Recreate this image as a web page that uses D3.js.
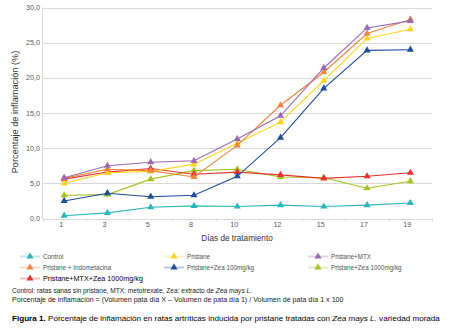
<!DOCTYPE html>
<html><head><meta charset="utf-8">
<script src="https://cdn.jsdelivr.net/npm/d3@7"></script>
<style>
body{margin:0;background:#fff;}
svg{display:block;font-family:"Liberation Sans",Arial,sans-serif;}
</style></head>
<body><svg id="c" width="451" height="329"></svg>
<script>
const days = ["1","3","5","8","10","12","15","17","19"];
const yTicks = [0,5,10,15,20,25,30];
const seriesNames = ["Control","Pristane","Pristane+MTX","Pristane + Indometacina","Pristane+Zea 100mg/kg","Pristane+Zea 1000mg/kg","Pristane+MTX+Zea 1000mg/kg"];
const seriesColors = ["#2bb7b9","#ffd21f","#9c6ab4","#f0843e","#1f4e9a","#a3c51f","#e8322b"];
const control   = [0.4,0.8,1.6,1.8,1.7,1.9,1.7,1.9,2.2];
const pristane  = [5.0,6.5,6.7,7.7,10.7,13.7,19.6,25.6,26.9];
const prisMTX   = [5.8,7.5,8.0,8.2,11.3,14.6,21.4,27.1,28.1];
const prisIndo  = [5.7,7.0,6.8,5.9,10.4,16.1,20.8,26.3,28.3];
const prisZea100 = [2.5,3.6,3.1,3.3,6.0,11.5,18.5,23.9,24.0];
const prisZea1000 = [3.3,3.4,5.6,6.8,7.0,5.9,5.8,4.3,5.3];
const prisMTXZea = [5.6,6.6,7.1,6.3,6.6,6.2,5.7,6.0,6.5];
const seriesValues = [control,pristane,prisMTX,prisIndo,prisZea100,prisZea1000,prisMTXZea];
const drawOrder = [0,5,6,4,1,3,2];

const svg = d3.select("#c");
const x = d3.scaleBand().domain(days).range([42.5,432]);
const y = d3.scaleLinear().domain([0,30]).range([218.5,7.5]);
const cx = d => x(d)+x.bandwidth()/2;

svg.append("g").selectAll("line").data(yTicks).join("line")
  .attr("x1",42.5).attr("x2",432).attr("y1",d=>Math.round(y(d))+0.5).attr("y2",d=>Math.round(y(d))+0.5)
  .attr("stroke","#d9d9d9").attr("stroke-width",1);
svg.append("line").attr("x1",42.5).attr("x2",42.5).attr("y1",y(30)).attr("y2",y(0)).attr("stroke","#d9d9d9");
const bounds = days.map(d=>x(d)).concat([x(days[days.length-1])+x.bandwidth()]);
svg.append("g").selectAll("line").data(bounds).join("line")
  .attr("x1",d=>Math.round(d)+0.5).attr("x2",d=>Math.round(d)+0.5).attr("y1",y(0)).attr("y2",y(0)+3)
  .attr("stroke","#d9d9d9");
svg.append("g").selectAll("text").data(yTicks).join("text")
  .attr("x",40).attr("y",d=>y(d)+2.5).attr("text-anchor","end")
  .attr("font-size",7.2).attr("fill","#595959").text(d=>d.toFixed(1).replace(".",","));
svg.append("g").selectAll("text").data(days).join("text")
  .attr("x",d=>cx(d)-3).attr("y",226.5).attr("text-anchor","middle")
  .attr("font-size",7.2).attr("fill","#595959").text(d=>d);
svg.append("text").attr("x",237).attr("y",241).attr("text-anchor","middle")
  .attr("font-size",8.2).attr("fill","#333").text("Días de tratamiento");
svg.append("text").attr("transform","translate(18,112) rotate(-90)").attr("text-anchor","middle")
  .attr("font-size",9.2).attr("fill","#333").text("Porcentaje de inflamación (%)");

const tri = d3.symbol().type(d3.symbolTriangle).size(22);
const line = d3.line().x((v,i)=>cx(days[i])).y(v=>y(v));
drawOrder.forEach(si=>{
  const g = svg.append("g");
  g.append("path").attr("d",line(seriesValues[si])).attr("fill","none")
    .attr("stroke",seriesColors[si]).attr("stroke-width",1.1);
  g.selectAll("path.m").data(seriesValues[si]).join("path").attr("class","m")
    .attr("d",tri).attr("transform",(v,i)=>`translate(${cx(days[i])},${y(v)})`)
    .attr("fill",seriesColors[si]);
});

const legPos = [[20,256.5],[164,256.5],[308,256.5],[20,267.5],[164,267.5],[308,267.5],[20,278.5]];
seriesNames.forEach((n,i)=>{
  const [lx,ly] = legPos[i];
  const g = svg.append("g");
  g.append("line").attr("x1",lx).attr("x2",lx+20).attr("y1",ly).attr("y2",ly)
    .attr("stroke",seriesColors[i]).attr("stroke-opacity",0.3).attr("stroke-width",2);
  g.append("path").attr("d",tri).attr("transform",`translate(${lx+10},${ly})`).attr("fill",seriesColors[i]);
  g.append("text").attr("x",lx+23).attr("y",ly+2.4).attr("font-size",i===6?7.2:6.3)
    .attr("fill",i===6?"#000":"#505050").text(n);
});

const f1 = svg.append("text").attr("x",12).attr("y",292.5).attr("font-size",6.6).attr("fill","#222");
f1.append("tspan").text("Control: ratas sanas sin pristane, MTX: metotrexate, Zea: extracto de ");
f1.append("tspan").attr("font-style","italic").text("Zea mays L.");
svg.append("text").attr("x",12).attr("y",302).attr("font-size",7.1).attr("fill","#222")
  .text("Porcentaje de inflamación = (Volumen pata día X – Volumen de pata día 1) / Volumen de pata día 1 x 100");
const f3 = svg.append("text").attr("x",12).attr("y",320.5).attr("font-size",8.1).attr("fill","#000");
f3.append("tspan").attr("font-weight","bold").text("Figura 1.");
f3.append("tspan").text(" Porcentaje de inflamación en ratas artríticas inducida por pristane tratadas con ");
f3.append("tspan").attr("font-style","italic").text("Zea mays L.");
f3.append("tspan").text(" variedad morada");
</script></body></html>
